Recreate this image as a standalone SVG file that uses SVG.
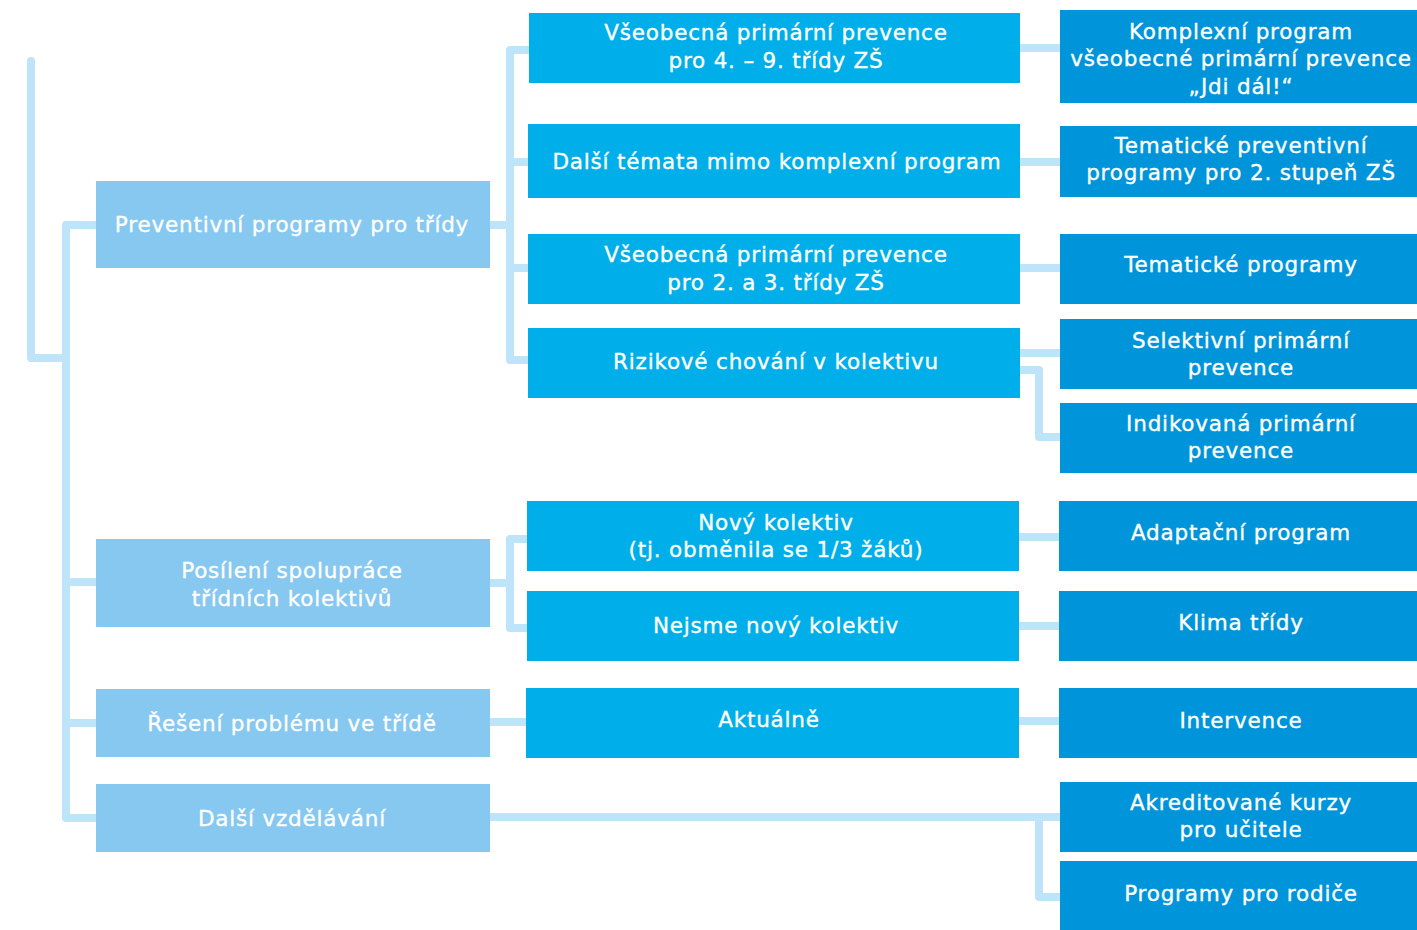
<svg xmlns="http://www.w3.org/2000/svg" width="1417" height="930" viewBox="0 0 1417 930">
<style>
.c{fill:none;stroke:#BEE4F9;stroke-width:8;stroke-linejoin:round;stroke-linecap:butt}
.l{fill:#87C8F0}
.m{fill:#00AFE9}
.r{fill:#0095DA}
text{font-family:"DejaVu Sans","Liberation Sans",sans-serif;font-size:21.5px;fill:#fff;stroke:#fff;stroke-width:0.35px;text-anchor:middle;letter-spacing:0.8px}
</style>
<rect width="1417" height="930" fill="#fff"/>
<g id="connectors">
<path class="c" d="M31,61 V358 H66" style="stroke-linecap:round"/>
<path class="c" d="M96,225 H66 V818 H96"/>
<path class="c" d="M66,582 H96 M66,723 H96"/>
<path class="c" d="M490,225 H510 M529,50 H510 V360 H529 M510,162 H529 M510,268 H529"/>
<path class="c" d="M490,583 H510 M527,539 H510 V628 H527"/>
<path class="c" d="M490,722 H527"/>
<path class="c" d="M1020,48 H1060 M1020,162 H1060 M1020,268 H1060 M1020,353 H1060"/>
<path class="c" d="M1020,370 H1039 V437 H1060"/>
<path class="c" d="M1019,537 H1060 M1019,626 H1060 M1019,721 H1060"/>
<path class="c" d="M490,817 H1060 M1039,817 V897 H1060"/>
</g>
<g id="n1"><rect class="l" x="96" y="181" width="394" height="87"/><text x="292" y="232">Preventivní programy pro třídy</text></g>
<g id="n2"><rect class="l" x="96" y="539" width="394" height="88"/><text x="292" y="578">Posílení spolupráce</text><text x="292" y="606">třídních kolektivů</text></g>
<g id="n3"><rect class="l" x="96" y="689" width="394" height="68"/><text x="292" y="731">Řešení problému ve třídě</text></g>
<g id="n4"><rect class="l" x="96" y="784" width="394" height="68"/><text x="292" y="826">Další vzdělávání</text></g>
<g id="m1"><rect class="m" x="529" y="13" width="491" height="70"/><text x="776" y="40">Všeobecná primární prevence</text><text x="776" y="68">pro 4. – 9. třídy ZŠ</text></g>
<g id="m2"><rect class="m" x="528" y="124" width="492" height="74"/><text x="777" y="169">Další témata mimo komplexní program</text></g>
<g id="m3"><rect class="m" x="528" y="234" width="492" height="70"/><text x="776" y="262">Všeobecná primární prevence</text><text x="776" y="290">pro 2. a 3. třídy ZŠ</text></g>
<g id="m4"><rect class="m" x="528" y="328" width="492" height="70"/><text x="776" y="369">Rizikové chování v kolektivu</text></g>
<g id="m5"><rect class="m" x="527" y="501" width="492" height="70"/><text x="776" y="530">Nový kolektiv</text><text x="776" y="557">(tj. obměnila se 1/3 žáků)</text></g>
<g id="m6"><rect class="m" x="527" y="591" width="492" height="70"/><text x="776" y="633">Nejsme nový kolektiv</text></g>
<g id="m7"><rect class="m" x="526" y="688" width="493" height="70"/><text x="769" y="727">Aktuálně</text></g>
<g id="r1"><rect class="r" x="1060" y="10" width="357" height="93"/><text x="1241" y="39">Komplexní program</text><text x="1241" y="66">všeobecné primární prevence</text><text x="1241" y="94">„Jdi dál!“</text></g>
<g id="r2"><rect class="r" x="1060" y="126" width="357" height="71"/><text x="1241" y="153">Tematické preventivní</text><text x="1241" y="180">programy pro 2. stupeň ZŠ</text></g>
<g id="r3"><rect class="r" x="1060" y="234" width="357" height="70"/><text x="1241" y="272">Tematické programy</text></g>
<g id="r4"><rect class="r" x="1060" y="319" width="357" height="70"/><text x="1241" y="348">Selektivní primární</text><text x="1241" y="375">prevence</text></g>
<g id="r5"><rect class="r" x="1060" y="403" width="357" height="70"/><text x="1241" y="431">Indikovaná primární</text><text x="1241" y="458">prevence</text></g>
<g id="r6"><rect class="r" x="1059" y="501" width="358" height="70"/><text x="1241" y="540">Adaptační program</text></g>
<g id="r7"><rect class="r" x="1059" y="591" width="358" height="70"/><text x="1241" y="630">Klima třídy</text></g>
<g id="r8"><rect class="r" x="1059" y="688" width="358" height="70"/><text x="1241" y="728">Intervence</text></g>
<g id="r9"><rect class="r" x="1060" y="782" width="357" height="70"/><text x="1241" y="810">Akreditované kurzy</text><text x="1241" y="837">pro učitele</text></g>
<g id="r10"><rect class="r" x="1060" y="861" width="357" height="69"/><text x="1241" y="901">Programy pro rodiče</text></g>
</svg>
